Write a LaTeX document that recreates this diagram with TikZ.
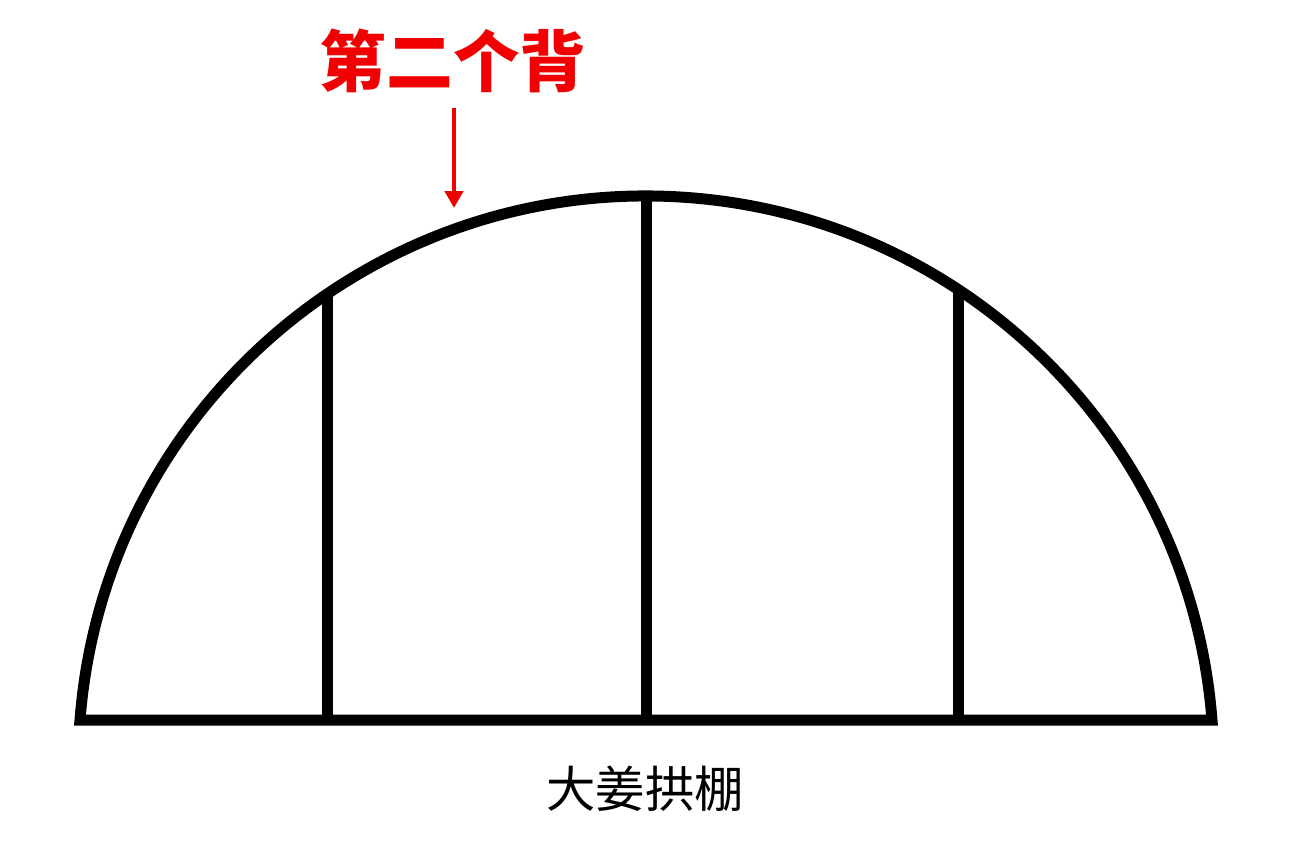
\documentclass[tikz,border=0pt]{standalone}
\usepackage{fontspec}
\newfontfamily\cjk{Noto Sans CJK SC}
\usetikzlibrary{arrows.meta}
\definecolor{titlered}{RGB}{240,0,0}
\tikzset{
  frame/.style={line width=8.25pt, line join=miter, black},
  post/.style={line width=8.25pt, black},
  redarrow/.style={line width=3.6pt, titlered, -{Triangle[width=13.5pt,length=12.75pt]}},
  titletext/.style={font=\cjk\bfseries\fontsize{50}{60}\selectfont, text=titlered, inner sep=0pt},
  captext/.style={font=\cjk\fontsize{37}{44}\selectfont, text=black, inner sep=0pt}
}
\begin{document}
\begin{tikzpicture}[x=0.75pt,y=-0.75pt]
\useasboundingbox (0,0) rectangle (1289,850);
% key points
\coordinate (bl) at (80,720);
\coordinate (br) at (1212,720);
\coordinate (p1b) at (327.5,720);
\coordinate (p1t) at (327.5,293.7);
\coordinate (p2b) at (646.5,720);
\coordinate (p2t) at (646.5,196);
\coordinate (p3b) at (958,720);
\coordinate (p3t) at (958,289.4);
% posts
\draw[post] (p1b) -- (p1t);
\draw[post] (p2b) -- (p2t);
\draw[post] (p3b) -- (p3t);
% arch and base
\draw[frame] (bl) arc[start angle=184.41, end angle=355.59, radius=567.7] -- (bl) -- cycle;
% labels
\node[titletext] (title) at (453,61) {第二个背};
\coordinate (astart) at (454,108);
\coordinate (atip) at (454,208);
\draw[redarrow] (astart) -- (atip);
\node[captext] (caption) at (645,789) {大姜拱棚};
\end{tikzpicture}
\end{document}
